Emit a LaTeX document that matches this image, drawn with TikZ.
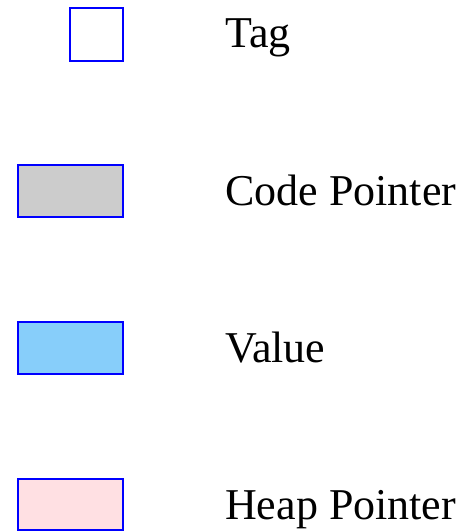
\documentclass[tikz,border=0pt]{standalone}
\usepackage{fontspec}
\setmainfont{Liberation Serif}
\definecolor{codegray}{HTML}{CCCCCC}
\definecolor{valueblue}{HTML}{87CEFA}
\definecolor{heappink}{HTML}{FFE0E3}
\begin{document}
\begin{tikzpicture}[x=1pt,y=-1pt,
  legendbox/.style={draw=blue, line width=2pt},
  legendtext/.style={anchor=base west, inner sep=0pt, font=\fontsize{44}{50}\selectfont}]
\useasboundingbox (0,0) rectangle (468,531);
% legend swatches
\draw[legendbox, fill=white] (69.5,7.5) rectangle (122.5,60.5) coordinate (tagbox);
\draw[legendbox, fill=codegray] (17.5,164.5) rectangle (122.5,216.5) coordinate (codebox);
\draw[legendbox, fill=valueblue] (17.5,321.5) rectangle (122.5,373.5) coordinate (valbox);
\draw[legendbox, fill=heappink] (17.5,478.5) rectangle (122.5,530) coordinate (heapbox);
% legend labels
\node[legendtext] (tag) at (225,47) {Tag};
\node[legendtext] (code) at (225,205) {Code Pointer};
\node[legendtext] (value) at (225,362) {Value};
\node[legendtext] (heap) at (225,519) {Heap Pointer};
\end{tikzpicture}
\end{document}
